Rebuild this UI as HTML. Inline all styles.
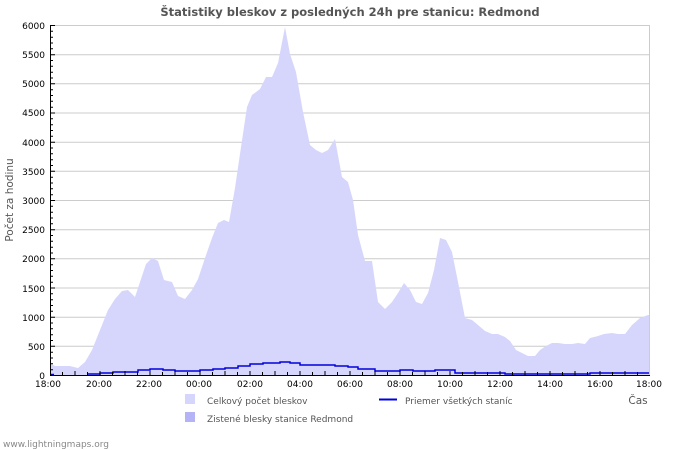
<!DOCTYPE html>
<html><head><meta charset="utf-8"><style>
html,body{margin:0;padding:0;background:#fff;}
svg{display:block;font-family:"DejaVu Sans","Liberation Sans",sans-serif;}
</style></head><body>
<svg width="700" height="450" viewBox="0 0 700 450" xmlns="http://www.w3.org/2000/svg">
<rect width="700" height="450" fill="#fff"/>
<text x="350" y="16" text-anchor="middle" font-size="11.5" font-weight="bold" fill="#555">Štatistiky bleskov z posledných 24h pre stanicu: Redmond</text>
<g stroke="#ccc" stroke-width="1">
<line x1="50" y1="25.5" x2="650" y2="25.5"/><line x1="50" y1="83.8" x2="650" y2="83.8"/>
<line x1="50" y1="142.2" x2="650" y2="142.2"/><line x1="50" y1="200.5" x2="650" y2="200.5"/>
<line x1="50" y1="258.8" x2="650" y2="258.8"/><line x1="50" y1="317.2" x2="650" y2="317.2"/>
<line x1="50" y1="54.7" x2="650" y2="54.7"/><line x1="50" y1="113" x2="650" y2="113"/>
<line x1="50" y1="171.3" x2="650" y2="171.3"/><line x1="50" y1="229.7" x2="650" y2="229.7"/>
<line x1="50" y1="288" x2="650" y2="288"/><line x1="50" y1="346.3" x2="650" y2="346.3"/>
<line x1="649.5" y1="25" x2="649.5" y2="375"/>
</g>
<polygon fill="#d6d6fc" points="51,375 51,364 55,366 70,366 78,368 85,362 92,350 100,330 108,310 115,299 122,291 128,290 135,297 140,282 146,264 152,258 158,261 164,280 172,282 178,296 185,299 192,290 198,279 205,258 212,238 218,223 224,220 229,222 235,188 241,147 247,107 252,95 260,89 266,77 272,77 278,63 285,27 290,54 296,72 303,112 310,145 316,150 322,153 328,150 335,139 342,177 348,182 353,200 358,235 365,261 372,261 378,302 385,309 392,302 398,293 404,283 410,290 416,302 422,304 428,293 434,270 440,238 446,240 452,252 458,282 465,318 472,320 478,325 485,331 492,334 498,334 505,337 510,341 516,350 522,353 528,356 535,356 540,350 546,346 552,343 558,343 565,344 572,344 578,343 585,344 590,338 598,336 604,334 612,333 618,334 625,334 632,325 640,318 648,315 649,315 649,375"/>
<polyline fill="none" stroke="#0000dd" stroke-width="1.5" points="51,374.5 54,374.5"/>
<polyline fill="none" stroke="#0000dd" stroke-width="1.5" points="88,374 100,374 100,373 113,373 113,372 138,372 138,370 150,370 150,369 163,369 163,370 175,370 175,371 200,371 200,370 213,370 213,369 225,369 225,368 238,368 238,366 250,366 250,364 263,364 263,363 280,363 280,362 290,362 290,363 300,363 300,365 335,365 335,366 348,366 348,367 358,367 358,369 375,369 375,371 400,371 400,370 413,370 413,371 435,371 435,370 455,370 455,373 505,373 505,374 590,374 590,373 649,373"/>
<g stroke="#000" stroke-width="1">
<line x1="50.5" y1="25" x2="50.5" y2="375"/>
<line x1="50" y1="375.5" x2="650" y2="375.5"/>
</g>
<g stroke="#000" stroke-width="1">
<path d="M51 25.5h4M51 54.7h4M51 83.8h4M51 113h4M51 142.2h4M51 171.3h4M51 200.5h4M51 229.7h4M51 258.8h4M51 288h4M51 317.2h4M51 346.3h4"/>
<path d="M51 31.3h2M51 37.2h2M51 43h2M51 48.8h2M51 60.5h2M51 66.3h2M51 72.2h2M51 78h2M51 89.7h2M51 95.5h2M51 101.3h2M51 107.2h2M51 118.8h2M51 124.7h2M51 130.5h2M51 136.3h2M51 148h2M51 153.8h2M51 159.7h2M51 165.5h2M51 177.2h2M51 183h2M51 188.8h2M51 194.7h2M51 206.3h2M51 212.2h2M51 218h2M51 223.8h2M51 235.5h2M51 241.3h2M51 247.2h2M51 253h2M51 264.7h2M51 270.5h2M51 276.3h2M51 282.2h2M51 293.8h2M51 299.7h2M51 305.5h2M51 311.3h2M51 323h2M51 328.8h2M51 334.7h2M51 340.5h2M51 352.2h2M51 358h2M51 363.8h2M51 369.7h2"/>
<path d="M62.5 375v-3M75 375v-4M87.5 375v-3M100 375v-4M112.5 375v-3M125 375v-4M137.5 375v-3M150 375v-4M162.5 375v-3M175 375v-4M187.5 375v-3M200 375v-4M212.5 375v-3M225 375v-4M237.5 375v-3M250 375v-4M262.5 375v-3M275 375v-4M287.5 375v-3M300 375v-4M312.5 375v-3M325 375v-4M337.5 375v-3M350 375v-4M362.5 375v-3M375 375v-4M387.5 375v-3M400 375v-4M412.5 375v-3M425 375v-4M437.5 375v-3M450 375v-4M462.5 375v-3M475 375v-4M487.5 375v-3M500 375v-4M512.5 375v-3M525 375v-4M537.5 375v-3M550 375v-4M562.5 375v-3M575 375v-4M587.5 375v-3M600 375v-4M612.5 375v-3M625 375v-4M637.5 375v-3"/>
</g>
<g font-size="9" fill="#000" text-anchor="end">
<text x="45" y="29">6000</text><text x="45" y="58">5500</text><text x="45" y="87">5000</text>
<text x="45" y="116">4500</text><text x="45" y="146">4000</text><text x="45" y="175">3500</text>
<text x="45" y="204">3000</text><text x="45" y="233">2500</text><text x="45" y="262">2000</text>
<text x="45" y="292">1500</text><text x="45" y="321">1000</text><text x="45" y="350">500</text>
<text x="45" y="379">0</text>
</g>
<g font-size="9" fill="#000" text-anchor="middle">
<text x="48" y="387">18:00</text><text x="99" y="387">20:00</text><text x="149" y="387">22:00</text>
<text x="199" y="387">00:00</text><text x="250" y="387">02:00</text><text x="300" y="387">04:00</text>
<text x="350" y="387">06:00</text><text x="400" y="387">08:00</text><text x="450" y="387">10:00</text>
<text x="500" y="387">12:00</text><text x="550" y="387">14:00</text><text x="600" y="387">16:00</text>
<text x="649" y="387">18:00</text>
</g>
<text x="638" y="404" font-size="10.5" fill="#555" text-anchor="middle">Čas</text>
<text transform="translate(13,200) rotate(-90)" font-size="10.5" fill="#555" text-anchor="middle">Počet za hodinu</text>
<rect x="185" y="394" width="10" height="10" fill="#d6d6fc"/>
<text x="207" y="404" font-size="9" fill="#555">Celkový počet bleskov</text>
<rect x="185" y="412" width="10" height="10" fill="#b3b3f5"/>
<text x="207" y="422" font-size="9" fill="#555">Zistené blesky stanice Redmond</text>
<line x1="379" y1="399.5" x2="397" y2="399.5" stroke="#0000dd" stroke-width="2"/>
<text x="405" y="404" font-size="9" fill="#555">Priemer všetkých staníc</text>
<text x="3" y="447" font-size="9" fill="#888">www.lightningmaps.org</text>
</svg>
</body></html>
